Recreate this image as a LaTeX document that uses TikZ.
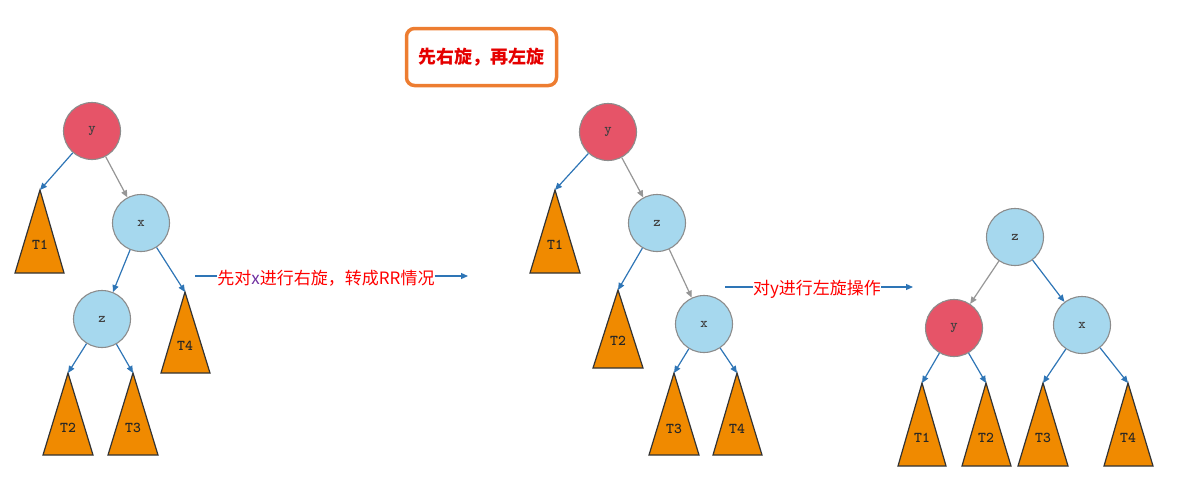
\documentclass[tikz,border=0pt]{standalone}
\usepackage{fontspec}
\newfontfamily\cjk{Noto Sans CJK SC}
\usetikzlibrary{arrows.meta,positioning}

\definecolor{nodered}{RGB}{230,84,104}
\definecolor{nodeblue}{RGB}{166,216,238}
\definecolor{treeorange}{RGB}{240,138,0}
\definecolor{edgeblue}{RGB}{46,117,182}
\definecolor{edgegray}{RGB}{150,150,150}
\definecolor{boxorange}{RGB}{237,125,49}
\definecolor{xpurple}{RGB}{112,48,160}

\begin{document}
\begin{tikzpicture}[x=1pt, y=-1pt,
    rednode/.style={circle, draw=black!45, line width=1.1pt, fill=nodered, minimum size=57pt, inner sep=0pt, font=\ttfamily\bfseries\fontsize{14}{14}\selectfont, text=black!75},
    bluenode/.style={rednode, fill=nodeblue},
    tri/.style={draw=black!80, line width=1.2pt, fill=treeorange, line join=miter},
    tlab/.style={inner sep=0pt, font=\ttfamily\bfseries\fontsize{15}{15}\selectfont, text=black!85},
    bl/.style={-{Triangle[length=7pt,width=6pt]}, draw=edgeblue, line width=1.2pt},
    gr/.style={-{Triangle[length=7pt,width=6pt]}, draw=edgegray, line width=1.2pt},
    note/.style={inner sep=0pt, text=red, font=\cjk\fontsize{17}{17}\selectfont}
  ]
    \useasboundingbox (0,0) rectangle (1177,482);

    % title
    \node[draw=boxorange, line width=3.5pt, rounded corners=8pt, minimum width=150pt, minimum height=57pt, text=red!90!black, font=\cjk\bfseries\fontsize{18}{18}\selectfont] (title) at (481.5,57) {先右旋，再左旋};

    % first tree
    \node[rednode] (ya) at (92,131) {y};
    \node[bluenode] (xa) at (141,223) {x};
    \node[bluenode] (za) at (102,319) {z};
    \draw[tri] (40,190) coordinate (ta1) -- (64,273) -- (15,273) -- cycle;
    \draw[tri] (185,292) coordinate (ta4) -- (210,373) -- (161,373) -- cycle;
    \draw[tri] (68,373) coordinate (ta2) -- (93,455) -- (43,455) -- cycle;
    \draw[tri] (133,373) coordinate (ta3) -- (158,455) -- (108,455) -- cycle;
    \node[tlab] (la1) at (40,245) {T1};
    \node[tlab] (la4) at (185,346) {T4};
    \node[tlab] (la2) at (68,428) {T2};
    \node[tlab] (la3) at (133,428) {T3};
    \draw[bl] (ya) -- (ta1);
    \draw[gr] (ya) -- (xa);
    \draw[bl] (xa) -- (za);
    \draw[bl] (xa) -- (ta4);
    \draw[bl] (za) -- (ta2);
    \draw[bl] (za) -- (ta3);

    % first step
    \node[note] (stepa) at (326,278) {先对{\color{xpurple}x}进行右旋，转成RR情况};
    \coordinate (sa) at (195,276);
    \coordinate (ea) at (468,276);
    \draw[edgeblue, line width=1.2pt] (sa) -- (sa -| stepa.west);
    \draw[bl] (ea -| stepa.east) -- (ea);

    % second tree
    \node[rednode] (yb) at (608,132) {y};
    \node[bluenode] (zb) at (657,223) {z};
    \node[bluenode] (xb) at (704,324) {x};
    \draw[tri] (555,190) coordinate (tb1) -- (580,273) -- (530,273) -- cycle;
    \draw[tri] (618,290) coordinate (tb2) -- (643,368) -- (593,368) -- cycle;
    \draw[tri] (674,373) coordinate (tb3) -- (699,455) -- (649,455) -- cycle;
    \draw[tri] (737,373) coordinate (tb4) -- (762,455) -- (713,455) -- cycle;
    \node[tlab] (lb1) at (555,245) {T1};
    \node[tlab] (lb2) at (618,341) {T2};
    \node[tlab] (lb3) at (674,429) {T3};
    \node[tlab] (lb4) at (737,429) {T4};
    \draw[bl] (yb) -- (tb1);
    \draw[gr] (yb) -- (zb);
    \draw[bl] (zb) -- (tb2);
    \draw[gr] (zb) -- (xb);
    \draw[bl] (xb) -- (tb3);
    \draw[bl] (xb) -- (tb4);

    % second step
    \node[note] (stepb) at (817,289) {对y进行左旋操作};
    \coordinate (sb) at (725,287);
    \coordinate (eb) at (913,287);
    \draw[edgeblue, line width=1.2pt] (sb) -- (sb -| stepb.west);
    \draw[bl] (eb -| stepb.east) -- (eb);

    % third tree
    \node[bluenode] (zc) at (1015,237) {z};
    \node[rednode] (yc) at (954,328) {y};
    \node[bluenode] (xc) at (1082,325) {x};
    \draw[tri] (922,383) coordinate (tc1) -- (946,466) -- (898,466) -- cycle;
    \draw[tri] (986,383) coordinate (tc2) -- (1011,466) -- (962,466) -- cycle;
    \draw[tri] (1043,383) coordinate (tc3) -- (1068,466) -- (1018,466) -- cycle;
    \draw[tri] (1128,383) coordinate (tc4) -- (1153,466) -- (1104,466) -- cycle;
    \node[tlab] (lc1) at (922,438) {T1};
    \node[tlab] (lc2) at (986,438) {T2};
    \node[tlab] (lc3) at (1043,438) {T3};
    \node[tlab] (lc4) at (1128,438) {T4};
    \draw[gr] (zc) -- (yc);
    \draw[bl] (zc) -- (xc);
    \draw[bl] (yc) -- (tc1);
    \draw[bl] (yc) -- (tc2);
    \draw[bl] (xc) -- (tc3);
    \draw[bl] (xc) -- (tc4);
\end{tikzpicture}
\end{document}
